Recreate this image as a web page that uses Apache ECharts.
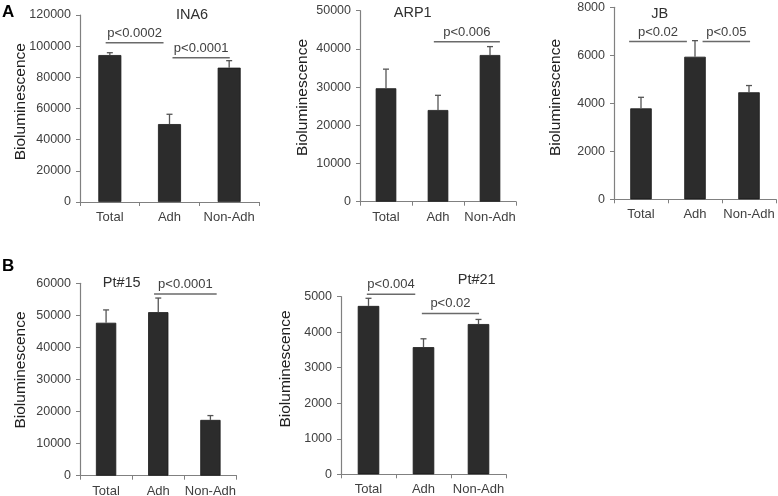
<!DOCTYPE html>
<html><head><meta charset="utf-8">
<script src="https://cdn.jsdelivr.net/npm/echarts@6/dist/echarts.min.js"></script>
<style>html,body{margin:0;padding:0;background:#fff}#c{width:778px;height:496px}</style>
</head><body><div id="c"></div>
<script>
const categories = ['Total', 'Adh', 'Non-Adh'];
const yAxisName = 'Bioluminescence';

const titles = ['INA6', 'ARP1', 'JB', 'Pt#15', 'Pt#21'];
const panelLetters = ['A', 'B'];

const ina6Mean = [94300, 50000, 86200];
const ina6Err = [1500, 6300, 4500];
const arp1Mean = [29700, 24000, 38400];
const arp1Err = [5000, 3850, 2200];
const jbMean = [3790, 5940, 4460];
const jbErr = [460, 670, 280];
const pt15Mean = [47700, 51000, 17400];
const pt15Err = [4000, 4400, 1350];
const pt21Mean = [4740, 3580, 4230];
const pt21Err = [215, 235, 130];

const yMax = [120000, 50000, 8000, 60000, 5000];
const yStep = [20000, 10000, 2000, 10000, 1000];

// significance brackets: [from category, to category, level, text]
const ina6Sig = [[-0.07, 0.90, 102200, 'p<0.0002'], [1.05, 2.01, 92600, 'p<0.0001']];
const arp1Sig = [[0.92, 2.19, 41900, 'p<0.006']];
const jbSig = [[-0.22, 0.85, 6570, 'p<0.02'], [1.14, 2.02, 6570, 'p<0.05']];
const pt15Sig = [[0.92, 2.12, 56650, 'p<0.0001']];
const pt21Sig = [[-0.03, 0.85, 5070, 'p<0.004'], [0.97, 2.01, 4530, 'p<0.02']];

const means = [ina6Mean, arp1Mean, jbMean, pt15Mean, pt21Mean];
const errs = [ina6Err, arp1Err, jbErr, pt15Err, pt21Err];
const sigs = [ina6Sig, arp1Sig, jbSig, pt15Sig, pt21Sig];

// layout
const grids = [
  {left: 80, top: 15, width: 179, height: 187},
  {left: 360, top: 10.7, width: 156, height: 191},
  {left: 614, top: 7.3, width: 162, height: 192},
  {left: 80, top: 283.3, width: 156.5, height: 192.4},
  {left: 341, top: 296.7, width: 165, height: 177.6}
];
const barWidths = [23, 20.6, 21.5, 20.3, 21.5];
const titlePos = [[192, 15], [412.7, 13.3], [659.7, 14], [121.7, 283.3], [476.7, 280]];
const letterPos = [[2, 12], [2, 266]];
const yNamePos = [[20.5, 101.7], [302.5, 97.5], [556, 97.5], [21, 370], [286, 369]];

const FONT = '"Liberation Sans", Arial, sans-serif';
const axisCol = '#808080';
const textCol = '#404040';

const chart = echarts.init(document.getElementById('c'), null, {renderer: 'canvas'});

const option = {
  animation: false,
  backgroundColor: '#fff',
  textStyle: {fontFamily: FONT},
  grid: grids.map(g => Object.assign({outerBoundsMode: 'none', containLabel: false}, g)),
  xAxis: grids.map((g, i) => ({
    type: 'category', gridIndex: i, data: categories,
    axisLine: {lineStyle: {color: axisCol, width: 1.2}},
    axisTick: {show: true, length: 4, lineStyle: {color: axisCol}},
    axisLabel: {color: textCol, fontSize: 13, margin: 9, interval: 0, fontFamily: FONT}
  })),
  yAxis: grids.map((g, i) => ({
    type: 'value', gridIndex: i, min: 0, max: yMax[i], interval: yStep[i],
    axisLine: {show: true, lineStyle: {color: axisCol, width: 1.2}},
    axisTick: {show: true, length: 4, lineStyle: {color: axisCol}},
    axisLabel: {color: textCol, fontSize: 12.5, margin: 9, fontFamily: FONT, formatter: v => String(v)},
    splitLine: {show: false}
  })),
  graphic: titles.map((t, i) => ({
    type: 'text', x: titlePos[i][0], y: titlePos[i][1],
    style: {text: t, fill: '#303030', font: '14.5px ' + FONT, textAlign: 'center', textVerticalAlign: 'middle'}
  })).concat(panelLetters.map((l, i) => ({
    type: 'text', x: letterPos[i][0], y: letterPos[i][1],
    style: {text: l, fill: '#000', font: 'bold 17px ' + FONT, textAlign: 'left', textVerticalAlign: 'middle'}
  }))).concat(yNamePos.map(p => ({
    type: 'text', x: p[0], y: p[1], rotation: Math.PI / 2,
    style: {text: yAxisName, fill: '#202020', font: '15.5px ' + FONT, textAlign: 'center', textVerticalAlign: 'middle'}
  }))),
  series: []
};

means.forEach((m, i) => {
  option.series.push({
    type: 'bar', xAxisIndex: i, yAxisIndex: i, data: m, barWidth: barWidths[i],
    itemStyle: {color: '#2c2c2c', borderColor: '#1a1a1a', borderWidth: 0.8}
  });
  option.series.push({
    type: 'custom', xAxisIndex: i, yAxisIndex: i, clip: false, z: 3,
    data: m.map((v, k) => [k, v, v + errs[i][k]]),
    renderItem: function (params, api) {
      const b = api.coord([api.value(0), api.value(1)]);
      const t = api.coord([api.value(0), api.value(2)]);
      const cap = 3;
      return {type: 'group', children: [
        {type: 'line', shape: {x1: b[0], y1: b[1], x2: t[0], y2: t[1]}, style: {stroke: '#555', lineWidth: 1.3}},
        {type: 'line', shape: {x1: t[0] - cap, y1: t[1], x2: t[0] + cap, y2: t[1]}, style: {stroke: '#555', lineWidth: 1.3}}
      ]};
    }
  });
  option.series.push({
    type: 'custom', xAxisIndex: i, yAxisIndex: i, clip: false, z: 4,
    data: sigs[i],
    renderItem: function (params, api) {
      const d = sigs[i][params.dataIndex];
      const bw = api.size([1, 0])[0];
      const px = function (v) { const r = Math.round(v); return api.coord([r, d[2]])[0] + (v - r) * bw; };
      const y = api.coord([0, d[2]])[1];
      const x1 = px(d[0]), x2 = px(d[1]);
      return {type: 'group', children: [
        {type: 'line', shape: {x1: x1, y1: y, x2: x2, y2: y}, style: {stroke: '#6a6a6a', lineWidth: 1.5}},
        {type: 'text', x: (x1 + x2) / 2, y: y - 9.5, style: {text: d[3], fill: textCol, font: '13px ' + FONT, textAlign: 'center', textVerticalAlign: 'middle'}}
      ]};
    }
  });
});

chart.setOption(option);
</script></body></html>
